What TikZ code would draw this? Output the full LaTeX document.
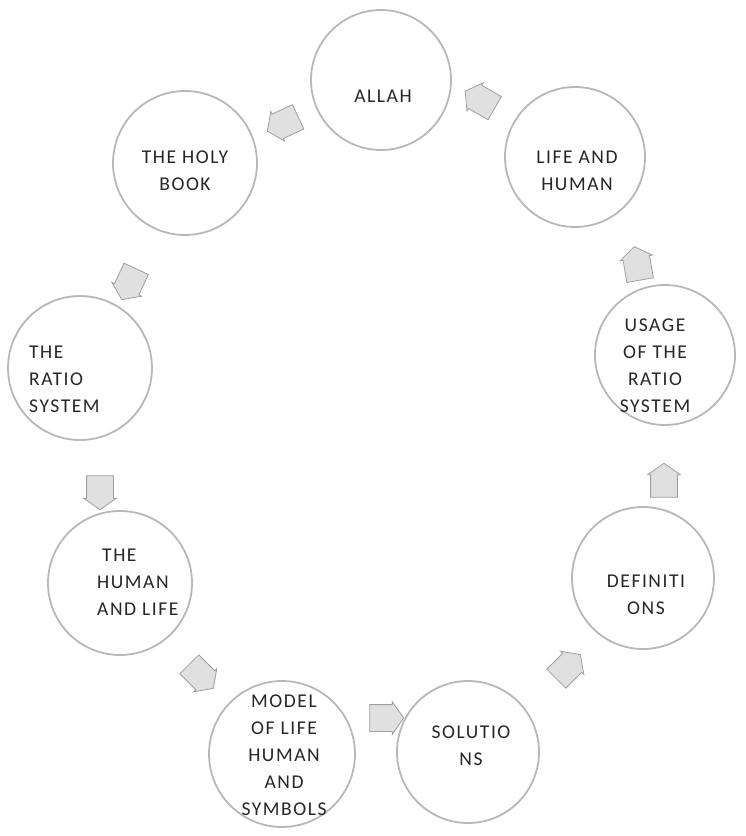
\documentclass[tikz,border=0pt]{standalone}
\usepackage{fontspec}
\setmainfont{Carlito}[LetterSpace=8]
\usetikzlibrary{shapes.arrows}
\begin{document}
\begin{tikzpicture}[x=1pt,y=-1pt,
  ball/.style={circle,fill=white,draw=black!28,line width=1.8pt,minimum size=#1,inner sep=0pt},
  ball/.default=142pt,
  lbl/.style={font=\fontsize{19.5}{27}\selectfont,text=black!85,align=center,inner sep=0pt},
  arr/.style={single arrow,single arrow head extend=3pt,single arrow tip angle=110,
    minimum height=34pt,inner xsep=0pt,inner ysep=13pt,
    fill=black!12,draw=black!38,line width=0.8pt}]
\useasboundingbox (0,0) rectangle (745,836);
% circles
\node[ball=140pt] (allah) at (381,80) {};
\node[ball=144pt] (holy) at (185,163) {};
\node[ball=140pt] (life) at (575,157) {};
\node[ball=144pt] (ratio) at (80,368) {};
\node[ball=140pt] (usage) at (665,355) {};
\node[ball=144pt] (human) at (120,583) {};
\node[ball=142pt] (defs) at (643,578) {};
\node[ball=146pt] (model) at (282,754) {};
\node[ball=142pt] (sol) at (468,752) {};
% labels
\node[lbl] (tallah) at (383,96) {ALLAH};
\node[lbl] (tholy) at (185,171) {THE HOLY\\BOOK};
\node[lbl] (tlife) at (577,171) {LIFE AND\\HUMAN};
\node[lbl,align=left,anchor=west] (tratio) at (29,379) {THE\\RATIO\\SYSTEM};
\node[lbl] (tusage) at (655,366) {USAGE\\OF THE\\RATIO\\SYSTEM};
\node[lbl,align=left,anchor=west] (thuman) at (97,582) {\hspace*{5pt}THE\\HUMAN\\AND LIFE};
\node[lbl] (tdefs) at (646,595) {DEFINITI\\ONS};
\node[lbl] (tmodel) at (284,755) {MODEL\\OF LIFE\\HUMAN\\AND\\SYMBOLS};
\node[lbl] (tsol) at (471,746) {SOLUTIO\\NS};
% arrows
\node[arr,rotate=205] (a1) at (287,122) {};
\node[arr,rotate=245] (a2) at (131,280) {};
\node[arr,rotate=270] (a3) at (100,488) {};
\node[arr,rotate=315] (a4) at (198,673) {};
\node[arr,rotate=0] (a5) at (382,718) {};
\node[arr,rotate=45] (a6) at (565,670) {};
\node[arr,rotate=90] (a7) at (664,485) {};
\node[arr,rotate=100] (a8) at (638,268) {};
\node[arr,rotate=150] (a9) at (484,102) {};
\end{tikzpicture}
\end{document}
